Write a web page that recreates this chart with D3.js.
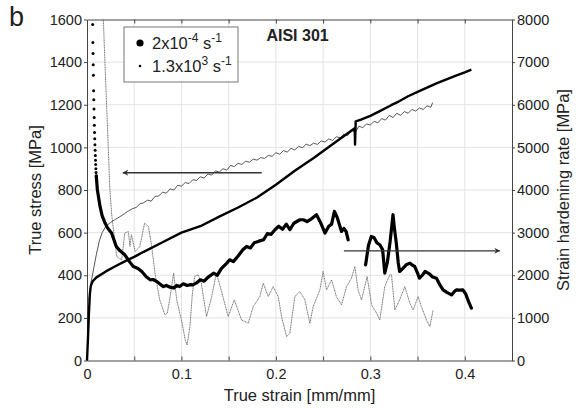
<!DOCTYPE html>
<html>
<head>
<meta charset="utf-8">
<script src="https://cdn.jsdelivr.net/npm/d3@7"></script>
<style>
  body { margin: 0; background: #fff; }
  text { font-family: "Liberation Sans", Arial, sans-serif; fill: #222; }
</style>
</head>
<body>
<script>
let width = 579;
let height = 412;
let margin = { left: 87, top: 19.5, right: 67, bottom: 51.5 };
let plotW = width - margin.left - margin.right;
let plotH = height - margin.top - margin.bottom;

// x ticks / y ticks
let xTicks = [0, 0.1, 0.2, 0.3, 0.4];
let xGrid = [0.05, 0.1, 0.15, 0.2, 0.25, 0.3, 0.35, 0.4];
let yTicksLeft = [0, 200, 400, 600, 800, 1000, 1200, 1400, 1600];
let yTicksRight = [0, 1000, 2000, 3000, 4000, 5000, 6000, 7000, 8000];

// quasi-static (2x10^-4 s^-1) true stress
let qsStress = [
  [0, 0], [0.001, 100], [0.002, 220], [0.003, 310], [0.004, 350], [0.006, 372],
  [0.01, 390], [0.02, 418], [0.03, 442], [0.04, 465], [0.05, 486], [0.06, 510],
  [0.08, 555], [0.1, 600], [0.12, 630], [0.14, 675], [0.16, 718], [0.18, 765],
  [0.2, 825], [0.22, 890], [0.24, 950], [0.26, 1015], [0.2835, 1090],
  [0.2838, 1013], [0.2845, 1122], [0.29, 1130], [0.3, 1148], [0.31, 1170],
  [0.32, 1193], [0.322, 1198], [0.33, 1215], [0.34, 1240], [0.35, 1260],
  [0.36, 1280], [0.37, 1300], [0.38, 1318], [0.39, 1335], [0.4, 1352], [0.407, 1365]
];

// dynamic (1.3x10^3 s^-1) true stress
let dynStress = [
  [0.002, 280], [0.004, 360], [0.007, 430], [0.01, 500], [0.013, 560], [0.016, 600],
  [0.02, 630], [0.025, 648], [0.03, 662], [0.035, 675], [0.040, 690], [0.044, 702],
  [0.048, 712], [0.052, 718], [0.056, 735], [0.060, 740], [0.064, 752], [0.068, 748],
  [0.072, 770], [0.076, 772], [0.080, 790], [0.084, 785], [0.088, 805], [0.092, 800],
  [0.096, 822], [0.100, 818], [0.104, 835], [0.108, 830], [0.112, 848], [0.116, 845],
  [0.120, 862], [0.124, 856], [0.128, 875], [0.132, 870], [0.136, 890], [0.140, 884],
  [0.144, 900], [0.148, 893], [0.152, 915], [0.156, 910], [0.160, 925], [0.164, 920],
  [0.168, 935], [0.172, 930], [0.176, 945], [0.180, 940], [0.184, 952], [0.188, 948],
  [0.192, 962], [0.196, 958], [0.200, 975], [0.204, 968], [0.208, 985], [0.212, 978],
  [0.216, 995], [0.220, 988], [0.224, 1005], [0.228, 998], [0.232, 1015], [0.236, 1008],
  [0.240, 1020], [0.244, 1014], [0.248, 1030], [0.252, 1025], [0.256, 1040], [0.260, 1032],
  [0.264, 1050], [0.268, 1045], [0.272, 1062], [0.276, 1055], [0.280, 1080], [0.284, 1070],
  [0.288, 1100], [0.292, 1092], [0.296, 1110], [0.300, 1105], [0.304, 1122], [0.308, 1115],
  [0.312, 1135], [0.316, 1128], [0.320, 1150], [0.324, 1140], [0.328, 1160], [0.332, 1150],
  [0.336, 1168], [0.340, 1160], [0.344, 1178], [0.348, 1170], [0.352, 1185], [0.356, 1178],
  [0.360, 1195], [0.364, 1188], [0.366, 1210]
];

// quasi-static strain hardening rate, sparse dots at the start
let qsRateTop = [
  [0.0060, 7880], [0.0062, 7460], [0.0064, 7200], [0.0066, 6940], [0.0068, 6690],
  [0.0070, 6330], [0.0072, 6120], [0.0074, 5900], [0.0076, 5700], [0.0078, 5520],
  [0.0080, 5350], [0.0082, 5200], [0.0084, 5060], [0.0086, 4930], [0.0088, 4810],
  [0.0090, 4700], [0.0092, 4600], [0.0094, 4500], [0.0096, 4410], [0.0098, 4330]
];

// quasi-static strain hardening rate, first segment
let qsRate1 = [
  [0.0098, 4330], [0.011, 4000], [0.0138, 3614], [0.016, 3400], [0.019, 3230],
  [0.022, 3100], [0.026, 2990], [0.031, 2674], [0.035, 2573], [0.040, 2480],
  [0.045, 2320], [0.049, 2205], [0.054, 2160], [0.058, 2087], [0.063, 1960],
  [0.067, 1892], [0.070, 1900], [0.074, 1852], [0.078, 1780], [0.081, 1734],
  [0.084, 1760], [0.088, 1720], [0.092, 1700], [0.095, 1760], [0.098, 1734],
  [0.102, 1800], [0.106, 1760], [0.110, 1780], [0.112, 1774], [0.116, 1820],
  [0.120, 1892], [0.124, 1860], [0.128, 1950], [0.134, 2049], [0.138, 2000],
  [0.142, 2150], [0.148, 2284], [0.151, 2362], [0.155, 2320], [0.160, 2450],
  [0.165, 2597], [0.169, 2675], [0.173, 2640], [0.177, 2760], [0.182, 2800],
  [0.187, 2832], [0.191, 2980], [0.195, 2960], [0.199, 3067], [0.203, 3150],
  [0.207, 3080], [0.211, 3200], [0.2148, 3067], [0.219, 3220], [0.2254, 3302],
  [0.229, 3302], [0.233, 3260], [0.238, 3330], [0.243, 3420], [0.247, 3250],
  [0.252, 2990], [0.256, 3150], [0.259, 3200], [0.262, 3497], [0.265, 3350],
  [0.2695, 3028], [0.272, 3100], [0.2745, 3020], [0.2765, 2832]
];

// quasi-static strain hardening rate, second segment
let qsRate2 = [
  [0.295, 2245], [0.298, 2700], [0.301, 2910], [0.304, 2880], [0.307, 2760],
  [0.310, 2715], [0.313, 2600], [0.3153, 2050], [0.318, 2300], [0.321, 2800],
  [0.324, 3420], [0.3255, 3100], [0.3275, 2754], [0.3295, 2300], [0.331, 2088],
  [0.334, 2150], [0.338, 2245], [0.342, 2284], [0.345, 2230], [0.347, 2205],
  [0.350, 2050], [0.352, 1931], [0.355, 2000], [0.358, 2088], [0.362, 2040],
  [0.366, 1960], [0.370, 1931], [0.374, 1760], [0.377, 1657], [0.381, 1600],
  [0.386, 1539], [0.389, 1620], [0.391, 1657], [0.395, 1650], [0.398, 1657],
  [0.401, 1560], [0.404, 1380], [0.407, 1227]
];

// dynamic strain hardening rate
let dynRate = [
  [0.0173, 8000], [0.0195, 6700], [0.022, 5300], [0.024, 4100], [0.026, 3460],
  [0.028, 3067], [0.0315, 2440], [0.0367, 2362], [0.040, 2990], [0.0437, 3028],
  [0.0455, 2675], [0.047, 2950], [0.051, 2558], [0.056, 2675], [0.061, 3224],
  [0.065, 3145], [0.0685, 2675], [0.072, 2050], [0.077, 1422], [0.0825, 1070],
  [0.085, 1110], [0.088, 1500], [0.0917, 2050], [0.095, 1422], [0.100, 952],
  [0.104, 482], [0.106, 364], [0.109, 794], [0.1115, 1550], [0.114, 1970],
  [0.1177, 2010], [0.121, 1814], [0.1266, 1030], [0.132, 1500], [0.137, 2050],
  [0.142, 1657], [0.1495, 1030], [0.156, 1422], [0.1636, 952], [0.1707, 874],
  [0.176, 1265], [0.183, 1500], [0.1866, 1814], [0.192, 1500], [0.197, 1734],
  [0.2025, 1500], [0.206, 1030], [0.2113, 560], [0.2148, 639], [0.220, 1500],
  [0.2254, 1617], [0.2307, 1422], [0.236, 874], [0.2395, 1265], [0.2466, 1657],
  [0.250, 2088], [0.2536, 1657], [0.259, 1892], [0.264, 1500], [0.2695, 1304],
  [0.2748, 1734], [0.280, 1931], [0.2836, 2205], [0.287, 1657], [0.2907, 1422],
  [0.2966, 1970], [0.3013, 1304], [0.3066, 1109], [0.310, 952], [0.3153, 1734],
  [0.3206, 2010], [0.3224, 2010], [0.326, 1187], [0.331, 1422], [0.3365, 1734],
  [0.3418, 1344], [0.3453, 1187], [0.3506, 1500], [0.354, 1265], [0.3594, 952],
  [0.363, 794], [0.3665, 1187]
];

// annotation arrows in data units
let arrowLeft = { x1: 0.185, x2: 0.038, y: 881 };
let arrowRight = { x1: 0.272, x2: 0.437, y: 2573 };

let svg = d3.select("body").append("svg")
    .attr("width", width)
    .attr("height", height);

let defs = svg.append("defs");
defs.append("marker")
    .attr("id", "head")
    .attr("viewBox", "0 0 10 10")
    .attr("refX", 9).attr("refY", 5)
    .attr("markerWidth", 9).attr("markerHeight", 6)
    .attr("markerUnits", "userSpaceOnUse")
    .attr("orient", "auto")
    .append("path")
    .attr("d", "M0,0 L10,5 L0,10 L3,5 Z")
    .attr("fill", "#333");

let g = svg.append("g")
    .attr("transform", "translate(" + margin.left + "," + margin.top + ")");

let x = d3.scaleLinear().domain([0, 0.45]).range([0, plotW]);
let yL = d3.scaleLinear().domain([0, 1600]).range([plotH, 0]);
let yR = d3.scaleLinear().domain([0, 8000]).range([plotH, 0]);

// grid
g.selectAll(".gx").data(xGrid).enter().append("line")
    .attr("x1", d => x(d)).attr("x2", d => x(d))
    .attr("y1", 0).attr("y2", plotH)
    .attr("stroke", "#e3e3e3").attr("stroke-width", 1);
g.selectAll(".gy").data(yTicksLeft.slice(1, -1)).enter().append("line")
    .attr("x1", 0).attr("x2", plotW)
    .attr("y1", d => yL(d)).attr("y2", d => yL(d))
    .attr("stroke", "#e3e3e3").attr("stroke-width", 1);

// axes
let axisColor = "#444";
let xAxis = g.append("g").attr("transform", "translate(0," + plotH + ")")
    .call(d3.axisBottom(x).tickValues(xGrid.concat([0])).tickSizeInner(-4).tickSizeOuter(0)
        .tickFormat(d => xTicks.some(t => Math.abs(t - d) < 1e-9) ? d3.format("~g")(d) : ""));
let topAxis = g.append("g")
    .call(d3.axisTop(x).tickValues(xGrid).tickSizeInner(-4).tickSizeOuter(0).tickFormat(""));
let leftAxis = g.append("g")
    .call(d3.axisLeft(yL).tickValues(yTicksLeft).tickSizeInner(3).tickSizeOuter(0).tickFormat(d3.format("d")));
let rightAxis = g.append("g").attr("transform", "translate(" + plotW + ",0)")
    .call(d3.axisRight(yR).tickValues(yTicksRight).tickSizeInner(3).tickSizeOuter(0).tickFormat(d3.format("d")));

[xAxis, topAxis, leftAxis, rightAxis].forEach(a => {
    a.select(".domain").attr("stroke", axisColor);
    a.selectAll(".tick line").attr("stroke", axisColor);
    a.selectAll("text").style("font-family", "Liberation Sans, Arial, sans-serif")
        .style("font-size", "14.5px").attr("fill", "#222");
});
xAxis.selectAll("text").attr("dy", "0.95em").attr("y", 5);
leftAxis.selectAll("text").attr("x", -5);
rightAxis.selectAll("text").attr("x", 5);

// lines
let line = (ys) => d3.line().x(d => x(d[0])).y(d => ys(d[1]));

g.append("path").datum(dynRate)
    .attr("d", line(yR))
    .attr("fill", "none").attr("stroke", "#666")
    .attr("stroke-width", 0.9).attr("stroke-dasharray", "1.2,0.5");

g.append("path").datum(dynStress)
    .attr("d", line(yL))
    .attr("fill", "none").attr("stroke", "#444").attr("stroke-width", 0.9);

g.append("path").datum(qsStress)
    .attr("d", line(yL))
    .attr("fill", "none").attr("stroke", "#000").attr("stroke-width", 2.4)
    .attr("stroke-linejoin", "round");

[qsRate1, qsRate2].forEach(seg => {
    g.append("path").datum(seg)
        .attr("d", line(yR))
        .attr("fill", "none").attr("stroke", "#000").attr("stroke-width", 3.2)
        .attr("stroke-linejoin", "round").attr("stroke-linecap", "round");
});

g.selectAll(".qsdot").data(qsRateTop).enter().append("circle")
    .attr("cx", d => x(d[0])).attr("cy", d => yR(d[1]))
    .attr("r", 1.5).attr("fill", "#000");

// arrows
[[arrowLeft, yL], [arrowRight, yR]].forEach(([a, ys]) => {
    g.append("line")
        .attr("x1", x(a.x1)).attr("x2", x(a.x2))
        .attr("y1", ys(a.y)).attr("y2", ys(a.y))
        .attr("stroke", "#333").attr("stroke-width", 1.3)
        .attr("marker-end", "url(#head)");
});

// legend
let leg = g.append("g").attr("transform", "translate(" + (124 - margin.left) + "," + (27 - margin.top) + ")");
leg.append("rect").attr("width", 114).attr("height", 55)
    .attr("fill", "#fff").attr("stroke", "#777").attr("stroke-width", 1);
leg.append("circle").attr("cx", 16).attr("cy", 16).attr("r", 3.6).attr("fill", "#000");
leg.append("circle").attr("cx", 16).attr("cy", 39).attr("r", 1.3).attr("fill", "#000");
let t1 = leg.append("text").attr("x", 28).attr("y", 22).style("font-size", "16.5px");
t1.append("tspan").text("2x10");
t1.append("tspan").attr("dy", -7).style("font-size", "12px").text("-4");
t1.append("tspan").attr("dy", 7).text(" s");
t1.append("tspan").attr("dy", -7).style("font-size", "12px").text("-1");
let t2 = leg.append("text").attr("x", 28).attr("y", 45).style("font-size", "16.5px");
t2.append("tspan").text("1.3x10");
t2.append("tspan").attr("dy", -7).style("font-size", "12px").text("3");
t2.append("tspan").attr("dy", 7).text(" s");
t2.append("tspan").attr("dy", -7).style("font-size", "12px").text("-1");

// titles
g.append("text").attr("x", x(0.19)).attr("y", 21)
    .style("font-size", "16px").style("font-weight", "bold").text("AISI 301");

svg.append("text").attr("x", 9).attr("y", 26)
    .style("font-size", "27px").text("b");

svg.append("text").attr("x", margin.left + plotW / 2).attr("y", 401)
    .attr("text-anchor", "middle").style("font-size", "16.5px").text("True strain [mm/mm]");

svg.append("text")
    .attr("transform", "translate(41," + (margin.top + plotH / 2) + ") rotate(-90)")
    .attr("text-anchor", "middle").style("font-size", "16.5px").text("True stress [MPa]");

svg.append("text")
    .attr("transform", "translate(569," + (margin.top + plotH / 2) + ") rotate(-90)")
    .attr("text-anchor", "middle").style("font-size", "16.5px").text("Strain hardening rate [MPa]");
</script>
</body>
</html>
